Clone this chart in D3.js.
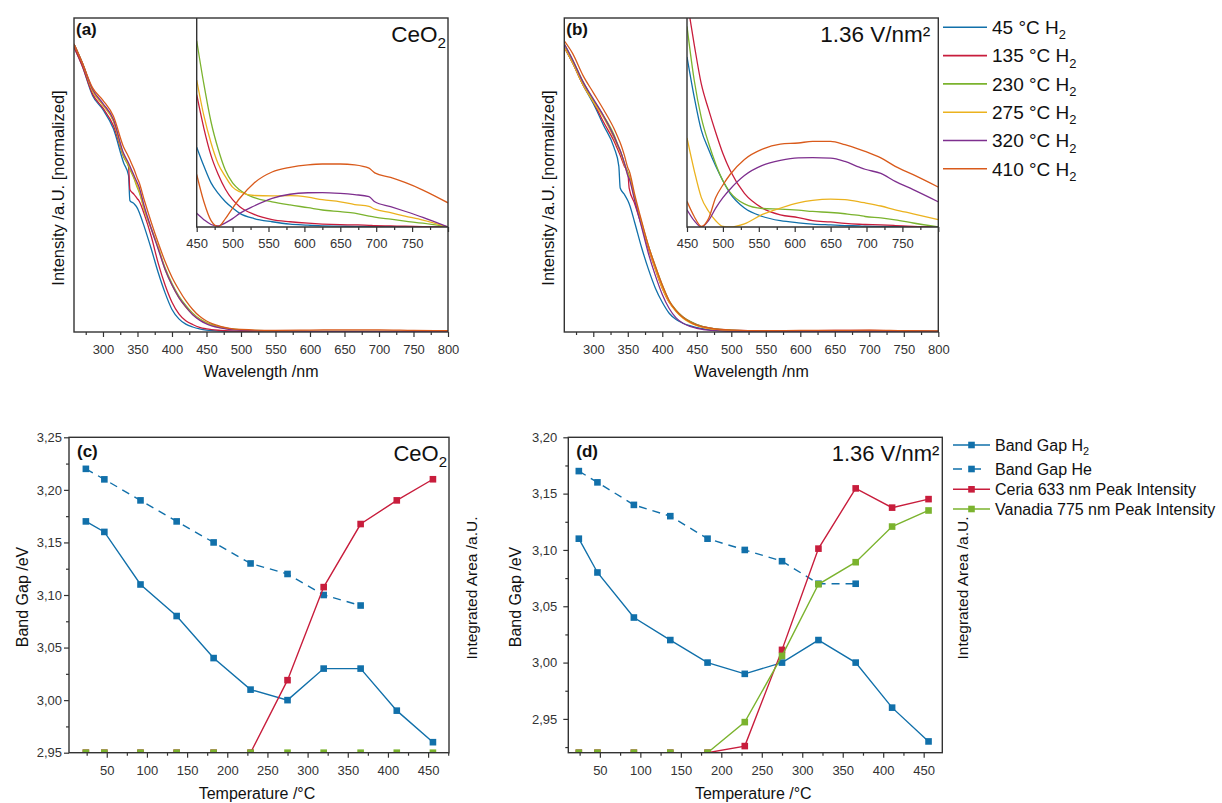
<!DOCTYPE html>
<html>
<head>
<meta charset="utf-8">
<script src="https://cdn.jsdelivr.net/npm/d3@7"></script>
<style>
  body { margin: 0; background: #fff; }
  svg text { font-family: Arial, "Liberation Sans", sans-serif; }
</style>
</head>
<body>
<svg id="fig" width="1222" height="803"></svg>
<script>
// ---- data ----
const tempLabels = ["45 °C H", "135 °C H", "230 °C H", "275 °C H", "320 °C H", "410 °C  H"];
const specColors = ["#1170aa", "#c81d3c", "#7bb32e", "#ebb21e", "#7e2f8e", "#d95a1b"];

// full spectra, normalized intensity
const wlMain = [258, 270, 285, 300, 315, 330, 337, 339, 345, 350, 352, 360, 370, 380, 390, 400,
                410, 420, 430, 440, 450, 470, 500, 550, 600, 650, 700, 750, 800];
const mainA = [
  [.91,.85,.755,.71,.65,.54,.50,.42,.41,.395,.385,.335,.265,.19,.125,.072,.042,.025,.016,.010,.006,.003,.002,.001,.001,.001,.001,.001,.001],
  [.91,.85,.76,.715,.66,.56,.53,.455,.44,.425,.42,.375,.305,.22,.15,.095,.058,.036,.024,.015,.010,.005,.002,.001,.001,.001,.001,.001,.001],
  [.92,.86,.77,.725,.675,.56,.53,.52,.49,.46,.45,.39,.33,.27,.205,.155,.115,.085,.06,.042,.03,.016,.007,.003,.002,.002,.002,.002,.002],
  [.92,.86,.77,.725,.675,.565,.535,.525,.495,.465,.455,.39,.33,.27,.20,.15,.11,.08,.057,.04,.028,.014,.006,.003,.002,.002,.002,.002,.002],
  [.92,.86,.775,.73,.68,.57,.54,.53,.50,.475,.465,.40,.33,.265,.20,.15,.11,.08,.055,.038,.026,.013,.005,.003,.002,.002,.002,.002,.002],
  [.92,.86,.78,.74,.69,.59,.56,.55,.52,.49,.48,.42,.35,.285,.225,.175,.135,.10,.072,.05,.035,.018,.008,.005,.006,.007,.007,.005,.004]
];
const mainB = [
  [.91,.86,.79,.73,.66,.59,.53,.46,.44,.42,.41,.35,.27,.20,.14,.095,.06,.04,.028,.02,.014,.007,.003,.002,.002,.002,.002,.002,.002],
  [.91,.86,.79,.735,.67,.61,.575,.565,.53,.51,.46,.41,.34,.265,.20,.14,.095,.068,.048,.034,.024,.012,.006,.004,.004,.005,.005,.004,.003],
  [.92,.87,.80,.74,.69,.63,.59,.58,.54,.51,.50,.43,.35,.275,.21,.15,.10,.07,.048,.034,.024,.012,.006,.003,.002,.002,.002,.002,.002],
  [.91,.86,.79,.735,.685,.62,.585,.575,.535,.505,.495,.425,.345,.27,.20,.14,.095,.065,.044,.03,.02,.009,.004,.002,.002,.002,.002,.002,.002],
  [.92,.87,.80,.745,.69,.625,.59,.58,.54,.50,.49,.42,.335,.25,.18,.12,.075,.045,.028,.018,.012,.005,.002,.002,.002,.002,.002,.002,.002],
  [.93,.89,.82,.765,.71,.65,.615,.605,.565,.525,.515,.44,.355,.275,.21,.15,.10,.068,.046,.032,.022,.012,.006,.004,.005,.005,.006,.004,.003]
];

// inset spectra 450-800 nm
const wlInset = [450, 460, 470, 480, 490, 500, 510, 530, 555, 580, 605, 625, 650, 670, 690, 698, 720, 740, 765, 800];
const insetA = [
  [.38,.29,.21,.16,.12,.09,.065,.04,.025,.014,.009,.005,.004,.003,.003,.002,.002,.001,.001,0],
  [.63,.47,.34,.25,.18,.13,.097,.06,.035,.025,.018,.014,.011,.01,.008,.006,.005,.004,.002,0],
  [.887,.68,.50,.37,.27,.21,.176,.14,.12,.105,.092,.081,.073,.066,.052,.047,.037,.028,.018,0],
  [.70,.53,.40,.30,.24,.19,.168,.15,.148,.149,.142,.13,.12,.107,.098,.085,.068,.052,.033,0],
  [.065,.035,.012,.005,.02,.04,.065,.10,.136,.156,.163,.164,.16,.154,.145,.12,.097,.075,.046,0],
  [.25,.12,.03,.002,.04,.09,.137,.21,.262,.284,.296,.30,.30,.296,.28,.258,.236,.212,.176,.115]
];
const insetB = [
  [.81,.62,.46,.37,.29,.22,.16,.09,.05,.03,.02,.014,.01,.007,.005,.004,.003,.002,.001,0],
  [1.08,.87,.68,.56,.45,.35,.27,.16,.09,.058,.045,.03,.024,.017,.013,.012,.01,.007,.003,0],
  [.955,.70,.52,.40,.30,.22,.165,.11,.088,.085,.08,.074,.069,.063,.055,.05,.043,.034,.019,0],
  [.424,.27,.14,.075,.03,.003,0,.015,.06,.09,.115,.127,.133,.13,.12,.115,.10,.082,.063,.035],
  [.082,.03,0,.03,.09,.14,.18,.245,.293,.317,.329,.33,.328,.312,.285,.275,.255,.217,.178,.12],
  [.122,.05,.003,.04,.14,.20,.25,.322,.371,.395,.40,.408,.408,.392,.37,.36,.329,.289,.249,.19]
];

// band gap vs temperature
const temps = [24, 47, 92, 137, 183, 229, 275, 320, 366, 411, 456];
const gapH2C = [3.17, 3.16, 3.11, 3.08, 3.04, 3.01, 3.00, 3.03, 3.03, 2.99, 2.96];
const gapHeC = [3.22, 3.21, 3.19, 3.17, 3.15, 3.13, 3.12, 3.10, 3.09];
const ceriaC = [0, 0, 0, 0, 0, 0, 0.23, 0.525, 0.725, 0.80, 0.867];
const vanadiaC = [0, 0, 0, 0, 0, 0, 0, 0, 0, 0, 0];
const gapH2D = [3.11, 3.08, 3.04, 3.02, 3.00, 2.99, 3.00, 3.02, 3.00, 2.96, 2.93];
const gapHeD = [3.17, 3.16, 3.14, 3.13, 3.11, 3.10, 3.09, 3.07, 3.07];
const ceriaD = [0, 0, 0, 0, 0, 0.021, 0.326, 0.647, 0.838, 0.777, 0.804];
const vanadiaD = [0, 0, 0, 0, 0, 0.097, 0.307, 0.534, 0.604, 0.717, 0.768];
const gapLegend = ["Band Gap H", "Band Gap He", "Ceria 633 nm Peak Intensity", "Vanadia 775 nm Peak Intensity"];
const gapColors = ["#1170aa", "#1170aa", "#c81d3c", "#7bb32e"];

// ---- drawing ----
const ink = "#333";
const svg = d3.select("#fig");
const defs = svg.append("defs");
const commaFmt = d3.formatLocale({decimal: ",", thousands: ".", grouping: [3], currency: ["", ""]}).format(".2f");

function clip(id, x0, y0, x1, y1) {
  defs.append("clipPath").attr("id", id).append("rect")
    .attr("x", x0).attr("y", y0).attr("width", x1 - x0).attr("height", y1 - y0);
  return `url(#${id})`;
}

function styleAxis(sel, fs) {
  sel.select(".domain").remove();
  sel.selectAll(".tick line").attr("stroke", ink).attr("stroke-width", 1.2);
  sel.selectAll(".tick text").attr("fill", ink).attr("font-size", fs).attr("font-family", "Arial, 'Liberation Sans', sans-serif");
}

function bottomTicks(g, scale, y, major, minor, fmt, pad) {
  g.append("g").attr("transform", `translate(0,${y})`)
    .call(d3.axisBottom(scale).tickValues(major).tickSize(5).tickPadding(pad).tickFormat(fmt))
    .call(s => styleAxis(s, 13));
  g.append("g").attr("transform", `translate(0,${y})`)
    .call(d3.axisBottom(scale).tickValues(minor).tickSize(3).tickFormat(""))
    .call(s => styleAxis(s, 13));
}

function vLabel(g, x, y, txt, size) {
  g.append("text").attr("transform", `translate(${x},${y}) rotate(-90)`)
    .attr("text-anchor", "middle").attr("dy", "0.35em")
    .attr("font-size", size).attr("fill", "#111").text(txt);
}

function subText(g, x, y, main, sub, size, anchor) {
  const t = g.append("text").attr("x", x).attr("y", y).attr("font-size", size)
    .attr("fill", "#111").attr("text-anchor", anchor || "start");
  t.append("tspan").text(main);
  if (sub) t.append("tspan").attr("font-size", size * 0.68).attr("dy", size * 0.28).text(sub);
  return t;
}

// UV-vis panel: main spectrum plus inset
function spectraPanel(ox, key, mainSet, insetSet, tag, title, titleSub, titleRight) {
  const L = ox, R = ox + 374, T = 18, B = 332;
  const IL = ox + 122.7, IB = 227;
  const g = svg.append("g");
  const x = d3.scaleLinear().domain([258, 800]).range([L, R]);
  const y = d3.scaleLinear().domain([0, 1]).range([B, 19]);
  const xi = d3.scaleLinear().domain([450, 800]).range([IL, R]);
  const yi = d3.scaleLinear().domain([0, 1]).range([IB, 17]);

  const mainLine = d3.line().x((d, j) => x(wlMain[j])).y(d => y(d)).curve(d3.curveMonotoneX);
  const cm = clip("main-" + key, L, T, R, B);
  g.append("g").attr("clip-path", cm).selectAll("path").data(mainSet).join("path")
    .attr("d", mainLine).attr("fill", "none")
    .attr("stroke", (d, i) => specColors[i]).attr("stroke-width", 1.3);

  // inset
  g.append("rect").attr("x", IL).attr("y", T).attr("width", R - IL).attr("height", IB - T).attr("fill", "#fff");
  const insetLine = d3.line().x((d, j) => xi(wlInset[j])).y(d => yi(d)).curve(d3.curveMonotoneX);
  const ci = clip("inset-" + key, IL, T, R, IB);
  g.append("g").attr("clip-path", ci).selectAll("path").data(insetSet).join("path")
    .attr("d", insetLine).attr("fill", "none")
    .attr("stroke", (d, i) => specColors[i]).attr("stroke-width", 1.3);
  g.append("path").attr("d", `M${IL},${T}V${IB}H${R}`).attr("fill", "none").attr("stroke", ink).attr("stroke-width", 1.4);

  bottomTicks(g, xi, IB, d3.range(450, 801, 50), d3.range(475, 800, 50), d => d === 800 ? "" : d, 7);
  bottomTicks(g, x, B, d3.range(300, 801, 50), d3.range(275, 800, 50), d => d, 8);

  g.append("rect").attr("x", L).attr("y", T).attr("width", R - L).attr("height", B - T)
    .attr("fill", "none").attr("stroke", ink).attr("stroke-width", 1.4);

  g.append("text").attr("x", L + 2).attr("y", 35).attr("font-size", 17).attr("font-weight", "bold")
    .attr("fill", "#111").text(tag);
  subText(g, R - titleRight, 41.5, title, titleSub, 22.5, "end");
  g.append("text").attr("x", (L + R) / 2).attr("y", 377).attr("text-anchor", "middle")
    .attr("font-size", 16).attr("fill", "#111").text("Wavelength /nm");
  vLabel(g, L - 16, 188, "Intensity /a.U. [normalized]", 16.5);
}

// band gap panel with right (integrated area) axis
function gapPanel(o) {
  const T = 437.3, B = 752.7;
  const g = svg.append("g");
  const x = d3.scaleLinear().domain(o.xDom).range([o.L, o.R]);
  const y = d3.scaleLinear().domain(o.yDom).range([B, T]);
  const yR = d3.scaleLinear().domain([0, 1]).range([B, T]);

  bottomTicks(g, x, B, d3.range(50, 451, 50), d3.range(25, 476, 50).filter(v => v > o.xDom[0] && v < o.xDom[1]), d => d, 8);
  g.append("g").attr("transform", `translate(${o.L},0)`)
    .call(d3.axisLeft(y).tickValues(o.yMajor).tickSize(5).tickPadding(o.padY).tickFormat(commaFmt))
    .call(s => styleAxis(s, 13));
  g.append("g").attr("transform", `translate(${o.L},0)`)
    .call(d3.axisLeft(y).tickValues(o.yMinor).tickSize(3).tickFormat(""))
    .call(s => styleAxis(s, 13));

  const cp = clip("plot-" + o.key, o.L, T, o.R, B);
  const plot = g.append("g").attr("clip-path", cp);
  const series = [
    {vals: o.h2, sc: y, color: gapColors[0], dash: null},
    {vals: o.he, sc: y, color: gapColors[1], dash: "8,6"},
    {vals: o.ceria, sc: yR, color: gapColors[2], dash: null},
    {vals: o.vanadia, sc: yR, color: gapColors[3], dash: null}
  ];
  series.forEach(s => {
    const line = d3.line().x((d, j) => x(temps[j])).y(d => s.sc(d));
    plot.append("path").datum(s.vals).attr("d", line).attr("fill", "none")
      .attr("stroke", s.color).attr("stroke-width", 1.4).attr("stroke-dasharray", s.dash);
    plot.selectAll(null).data(s.vals).join("rect")
      .attr("x", (d, j) => x(temps[j]) - 3.3).attr("y", d => s.sc(d) - 3.3)
      .attr("width", 6.6).attr("height", 6.6).attr("fill", s.color);
  });

  g.append("rect").attr("x", o.L).attr("y", T).attr("width", o.R - o.L).attr("height", B - T)
    .attr("fill", "none").attr("stroke", ink).attr("stroke-width", 1.4);

  g.append("text").attr("x", o.L + 8).attr("y", 457).attr("font-size", 17).attr("font-weight", "bold")
    .attr("fill", "#111").text(o.tag);
  subText(g, o.R - o.titleRight, 460.5, o.title, o.titleSub, 22, "end");
  g.append("text").attr("x", (o.L + o.R) / 2 - 2).attr("y", 799).attr("text-anchor", "middle")
    .attr("font-size", 16).attr("fill", "#111").text("Temperature /°C");
  vLabel(g, o.yLabelX, 597, "Band Gap /eV", 16);
  vLabel(g, o.rLabelX, 588, "Integrated Area /a.U.", 15.5);
}

spectraPanel(74, "a", mainA, insetA, "(a)", "CeO", "2", 2);
spectraPanel(564.3, "b", mainB, insetB, "(b)", "1.36 V/nm²", null, 8);

gapPanel({key: "c", L: 69, R: 449, xDom: [3, 476], yDom: [2.95, 3.25],
  yMajor: [2.95, 3.00, 3.05, 3.10, 3.15, 3.20, 3.25], yMinor: [2.975, 3.025, 3.075, 3.125, 3.175, 3.225],
  padY: 2, h2: gapH2C, he: gapHeC, ceria: ceriaC, vanadia: vanadiaC,
  tag: "(c)", title: "CeO", titleSub: "2", titleRight: 2, yLabelX: 22, rLabelX: 472});
gapPanel({key: "d", L: 568.3, R: 942.3, xDom: [11, 473], yDom: [2.92, 3.20],
  yMajor: [2.95, 3.00, 3.05, 3.10, 3.15, 3.20], yMinor: [2.925, 2.975, 3.025, 3.075, 3.125, 3.175],
  padY: 6, h2: gapH2D, he: gapHeD, ceria: ceriaD, vanadia: vanadiaD,
  tag: "(d)", title: "1.36 V/nm²", titleSub: null, titleRight: 3, yLabelX: 515, rLabelX: 963});

// legend for the spectra (shared by a and b)
const legTop = svg.append("g");
tempLabels.forEach((lab, i) => {
  const yy = 27.3 + i * 28.3;
  legTop.append("line").attr("x1", 943).attr("x2", 987).attr("y1", yy).attr("y2", yy)
    .attr("stroke", specColors[i]).attr("stroke-width", 1.6);
  subText(legTop, 992, yy + 6.8, lab, "2", 19);
});

// legend for the band gap panels
const legBot = svg.append("g");
const legRows = [445, 469, 489.3, 509];
gapLegend.forEach((lab, i) => {
  const yy = legRows[i];
  const ln = legBot.append("line").attr("x1", 953).attr("x2", 990).attr("y1", yy).attr("y2", yy)
    .attr("stroke", gapColors[i]).attr("stroke-width", 1.4);
  if (i === 1) ln.attr("stroke-dasharray", "9,10,9");
  legBot.append("rect").attr("x", 968.2).attr("y", yy - 3.3).attr("width", 6.6).attr("height", 6.6).attr("fill", gapColors[i]);
  subText(legBot, 995, yy + 5.8, lab, i === 0 ? "2" : null, 16);
});
</script>
</body>
</html>
